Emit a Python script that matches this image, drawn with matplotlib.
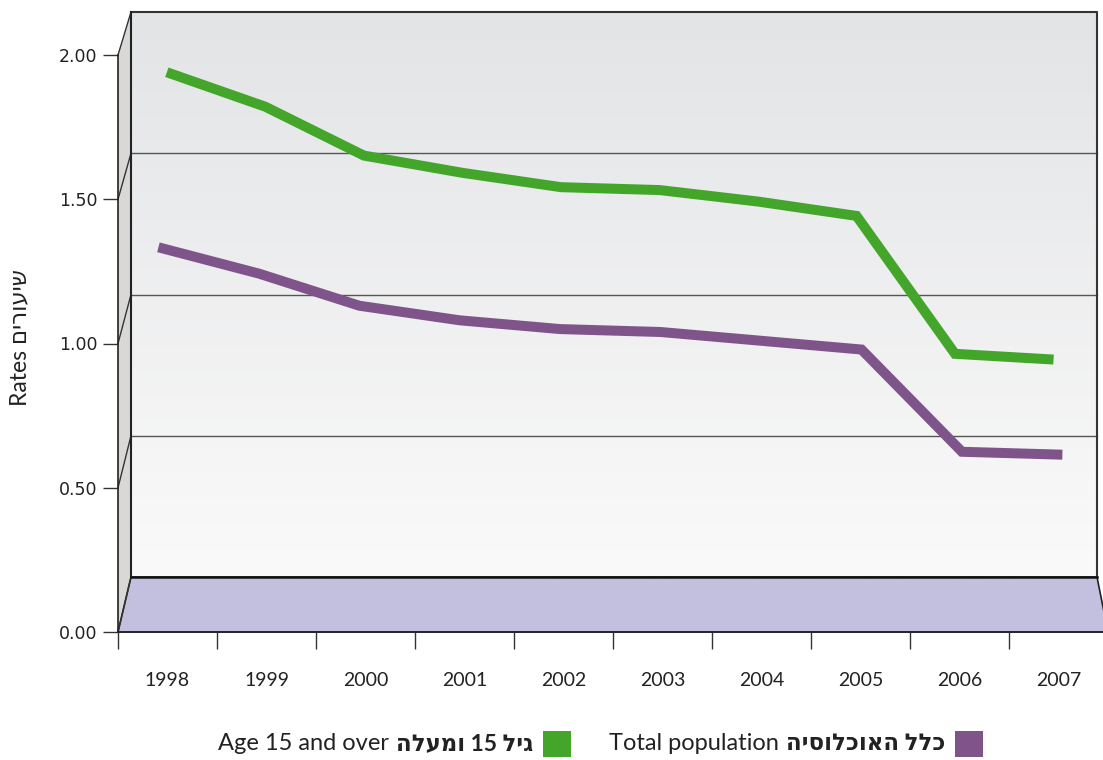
import numpy as np
import matplotlib
matplotlib.use('Agg')
import matplotlib.pyplot as plt
import matplotlib.transforms as mtransforms
from matplotlib.patches import Polygon

# Data
years = ['1998', '1999', '2000', '2001', '2002', '2003', '2004', '2005', '2006', '2007']
age15_rates = [1.91, 1.79, 1.62, 1.56, 1.51, 1.50, 1.46, 1.41, 0.93, 0.91]
total_rates = [1.43, 1.34, 1.23, 1.18, 1.15, 1.14, 1.11, 1.08, 0.73, 0.72]
y_ticks = [0.0, 0.5, 1.0, 1.5, 2.0]

# Labels (Hebrew written in visual order since matplotlib has no bidi)
ylabel_text = 'Rates ' + 'שיעורים'[::-1]
age15_latin = 'Age 15 and over'
age15_heb = 'ומעלה'[::-1] + ' 15 ' + 'גיל'[::-1]
total_latin = 'Total population'
total_heb = 'האוכלוסיה'[::-1] + ' ' + 'כלל'[::-1]

# Colours
green = '#43a62b'
purple = '#7f548b'
floor_color = '#c2bfdf'
side_color = '#d9d8d6'

plt.rcParams['font.family'] = ['Lato', 'DejaVu Sans']

W, H = 1103, 760
fig = plt.figure(figsize=(W / 100, H / 100), dpi=100)

# front plane geometry (pixels)
FX0, FY0 = 118, 128     # display coords of data (0, 0)
FW, FH = 990, 577       # width for 10 categories, height for 2.0
ax = fig.add_axes([FX0 / W, FY0 / H, FW / W, FH / H])
ax.set_xlim(0, 10)
ax.set_ylim(0, 2)
ax.patch.set_visible(False)


def depth_tf(d, dx=0):
    # pseudo-3D: shift and shrink the front plane going back
    x0 = FX0 + 13 * d + dx
    y0 = FY0 + 55 * d
    sx = (FW - 24 * d) / FW
    sy = (FH - 12 * d) / FH
    return ax.transData + mtransforms.Affine2D().translate(-FX0, -FY0).scale(sx, sy).translate(x0, y0)


def proj(pts, d):
    return depth_tf(d).transform(np.array(pts, dtype=float))


ident = mtransforms.IdentityTransform()

# back wall gradient
grad = np.linspace(0, 1, 256).reshape(-1, 1)
cmap = matplotlib.colors.LinearSegmentedColormap.from_list('wall', ['#fafafa', '#e3e4e6'])
ax.imshow(grad, cmap=cmap, extent=[0, 10, 0, 2], origin='lower', aspect='auto',
          transform=depth_tf(1), zorder=0, clip_on=False)

# side wall
side = np.vstack([proj([(0, 0), (0, 2)], 0), proj([(0, 2), (0, 0)], 1)])
ax.add_patch(Polygon(side, closed=True, facecolor=side_color, edgecolor='none',
                     transform=ident, zorder=1, clip_on=False))

# floor
floor = np.vstack([proj([(0, 0), (10, 0)], 0), proj([(10, 0), (0, 0)], 1)])
ax.add_patch(Polygon(floor, closed=True, facecolor=floor_color, edgecolor='#222222',
                     linewidth=1.2, transform=ident, zorder=2, clip_on=False))

# gridlines on back wall + diagonals on side wall
for v in y_ticks[1:-1]:
    ax.plot([0, 10], [v, v], color='#555555', lw=1.0, transform=depth_tf(1), zorder=1, clip_on=False)
for v in y_ticks:
    seg = np.vstack([proj([(0, v)], 0), proj([(0, v)], 1)])
    ax.plot(seg[:, 0], seg[:, 1], color='#333333', lw=1.0, transform=ident, zorder=3, clip_on=False)

# back wall border
ax.plot([0, 10, 10], [2, 2, 0], color='#333333', lw=1.5, transform=depth_tf(1), zorder=1, clip_on=False)
ax.plot([0, 0], [0, 2], color='#222222', lw=1.5, transform=depth_tf(1), zorder=3, clip_on=False)
ax.plot([0, 10], [0, 0], color='#111111', lw=1.8, transform=depth_tf(1), zorder=3, clip_on=False)

# series
xs = np.arange(len(years)) + 0.5
ax.plot(xs, age15_rates, color=green, lw=7.2, solid_capstyle='butt', solid_joinstyle='miter',
        transform=depth_tf(0.2, dx=-3), zorder=4, clip_on=False)
ax.plot(xs, total_rates, color=purple, lw=7.2, solid_capstyle='butt', solid_joinstyle='miter',
        transform=depth_tf(-0.6, dx=-2), zorder=4, clip_on=False)

# axes
for s in ['top', 'right']:
    ax.spines[s].set_visible(False)
ax.spines['left'].set_color('#222222')
ax.spines['left'].set_linewidth(1.2)
ax.spines['bottom'].set_color('#222222')
ax.spines['bottom'].set_linewidth(1.2)
ax.spines['left'].set_zorder(5)
ax.spines['bottom'].set_zorder(5)

ax.set_yticks(y_ticks)
ax.set_yticklabels([f'{v:.2f}' for v in y_ticks], fontfamily='DejaVu Sans', fontsize=12.5, color='#222222')
ax.tick_params(axis='y', direction='out', length=11, width=1.0, pad=4, color='#333333')

ax.set_xticks(np.arange(0, 11))
ax.set_xticklabels([])
ax.tick_params(axis='x', which='major', direction='out', length=12, width=1.0, color='#333333')
ax.set_xticks(xs, minor=True)
ax.set_xticklabels(years, minor=True, fontsize=14, color='#222222')
ax.tick_params(axis='x', which='minor', length=0, pad=29)

fig.text(20 / W, 1 - 338 / H, ylabel_text, rotation=90, ha='center', va='center',
         fontsize=16.5, color='#222222')

# legend
renderer = fig.canvas.get_renderer()
ly = H - 744
for sq_x, latin, heb, col in [(543, age15_latin, age15_heb, green),
                              (955, total_latin, total_heb, purple)]:
    fig.patches.append(Polygon([(sq_x, ly - 13), (sq_x + 28, ly - 13), (sq_x + 28, ly + 13), (sq_x, ly + 13)],
                               closed=True, facecolor=col, edgecolor='none', transform=ident, figure=fig))
    th = fig.text(sq_x - 10, ly, heb, ha='right', va='center', fontsize=16.5, fontweight='bold',
                  color='#222222', transform=ident)
    bb = th.get_window_extent(renderer)
    fig.text(bb.x0 - 7, ly, latin, ha='right', va='center', fontsize=17, color='#222222', transform=ident)

fig.savefig('out.png', dpi=100, facecolor='white')
